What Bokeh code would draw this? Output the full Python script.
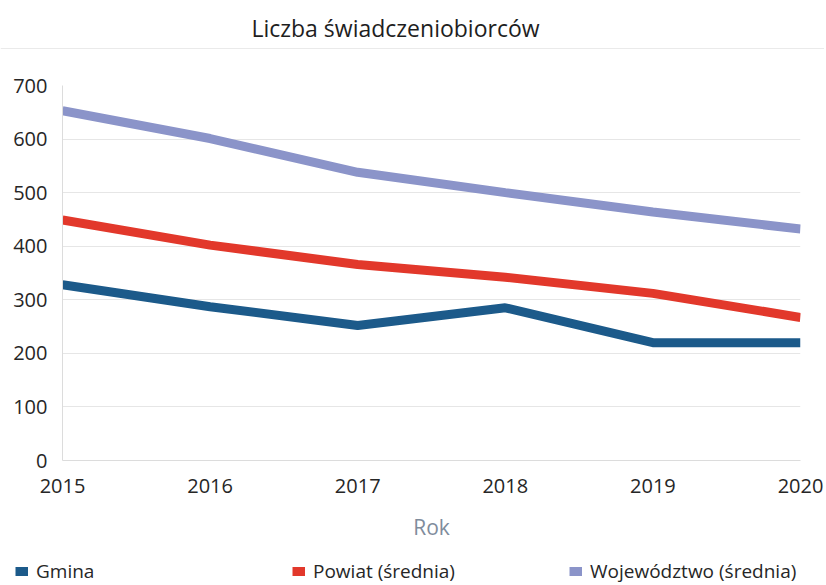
from bokeh.plotting import figure
from bokeh.models import Range1d, Legend, LegendItem, ColumnDataSource
from bokeh.layouts import column, row
from bokeh.embed import file_html
from bokeh.resources import INLINE
from bokeh.core.properties import value

years = [2015, 2016, 2017, 2018, 2019, 2020]
gmina = [328, 287, 252, 285, 220, 220]
powiat = [449, 402, 366, 342, 312, 267]
wojewodztwo = [653, 601, 538, 500, 464, 432]
series_names = ["Gmina", "Powiat (średnia)", "Województwo (średnia)"]
y_ticks = [0, 100, 200, 300, 400, 500, 600, 700]
title_text = "Liczba świadczeniobiorców"
x_label = "Rok"

colors = ["#1c5a8a", "#e2382b", "#8b94c9"]
FONT = "Open Sans"
W = 824
HH = 49
HM = 496
HL = 39


def bare(height, xr, yr):
    f = figure(width=W, height=height, output_backend="svg", toolbar_location=None,
               x_range=xr, y_range=yr, x_axis_location=None, y_axis_location=None,
               min_border_left=0, min_border_right=0, min_border_top=0,
               min_border_bottom=0, outline_line_color=None)
    f.grid.visible = False
    return f


# header with title and separator
h = bare(HH, Range1d(0, W), Range1d(0, HH))
h.text(x=[395], y=[HH - 27], text=[title_text], text_font=value(FONT),
       text_font_size="23px", text_color="#1e1e1e", text_align="center",
       text_baseline="middle")
h.line(x=[0, W], y=[0.5, 0.5], line_color="#d4d4d4", line_width=1)

p = figure(width=W, height=HM, output_backend="svg", toolbar_location=None,
           x_range=Range1d(2015, 2020), y_range=Range1d(0, 700),
           min_border_left=62, min_border_right=24, min_border_top=36,
           min_border_bottom=HM - 36 - 375, outline_line_color=None)

series = [gmina, powiat, wojewodztwo]
for name, vals, c in zip(series_names, series, colors):
    src = ColumnDataSource(dict(x=years, y=vals))
    p.line("x", "y", source=src, line_color=c, line_width=9)

p.xaxis.ticker = years
p.yaxis.ticker = y_ticks
for ax in [p.xaxis[0], p.yaxis[0]]:
    ax.major_tick_line_color = None
    ax.minor_tick_line_color = None
    ax.axis_line_color = "#dcdcdc"
    ax.major_label_text_font = FONT
    ax.major_label_text_font_size = "20px"
    ax.major_label_text_color = "#262626"
    ax.major_label_standoff = 9
p.xaxis.major_label_standoff = 12
p.xaxis.axis_label = x_label
p.xaxis.axis_label_text_font = FONT
p.xaxis.axis_label_text_font_size = "21px"
p.xaxis.axis_label_text_font_style = "normal"
p.xaxis.axis_label_text_color = "#7f8c9c"
p.xaxis.axis_label_standoff = 17
p.xgrid.visible = False
p.ygrid.grid_line_color = "#e6e6e6"
p.ygrid.grid_line_width = 1

# legend strip: series drawn outside its visible range, only legend samples show
lg = bare(HL, Range1d(0, 1), Range1d(0, 1))
leg_renderers = []
for vals, c in zip(series, colors):
    src = ColumnDataSource(dict(x=years, y=vals))
    leg_renderers.append(lg.line("x", "y", source=src, line_color=c, line_width=9))
legend = Legend(items=[LegendItem(label=n, renderers=[r]) for n, r in zip(series_names, leg_renderers)],
                orientation="horizontal", location=(15, 0),
                glyph_width=13, glyph_height=10, label_standoff=8, label_width=244,
                spacing=12, padding=0, margin=0, border_line_color=None,
                background_fill_alpha=0, label_text_font=FONT,
                label_text_font_size="19px", label_text_color="#262626")
lg.add_layout(legend, "center")

layout = column(row(h), row(p), row(lg), spacing=0)
open("out.html", "w").write(file_html(layout, INLINE))
